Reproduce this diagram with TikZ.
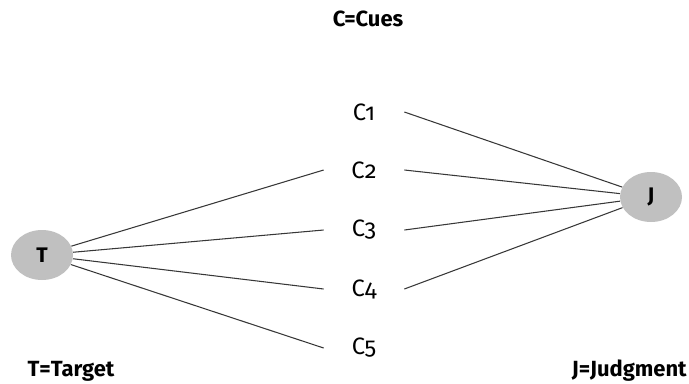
\documentclass[tikz,border=0pt]{standalone}
\usepackage{fontspec}
\setmainfont{Fira Sans}[Numbers=OldStyle]
\usetikzlibrary{shapes.geometric}
\definecolor{ballgray}{RGB}{192,192,192}
\definecolor{linkgray}{RGB}{55,55,55}
\newlength{\unitpx}
\setlength{\unitpx}{0.02cm}
\tikzset{
  ball/.style={ellipse, fill=ballgray, minimum width=62\unitpx, minimum height=50\unitpx,
    inner sep=0pt, font=\fontsize{12}{13}\selectfont\bfseries},
  cue/.style={minimum width=80\unitpx, minimum height=20\unitpx, inner sep=0pt,
    font=\fontsize{13.5}{15}\selectfont},
  legend/.style={font=\fontsize{12.5}{14}\selectfont\bfseries, inner sep=0pt},
  link/.style={draw=linkgray, line width=0.6pt}
}
\begin{document}
\begin{tikzpicture}[x=0.02cm, y=-0.02cm]
  \useasboundingbox (0,0) rectangle (689,383);
  % target and judgment
  \node[ball] (T) at (42,255) {T};
  \node[ball] (J) at (651,197) {J};
  % cue nodes
  \node[cue] (c1) at (364,112) {C1};
  \node[cue] (c2) at (364,170) {C2};
  \node[cue] (c3) at (364,230) {C3};
  \node[cue] (c4) at (364,289) {C4};
  \node[cue] (c5) at (364,348) {C5};
  % legend texts
  \node[legend] (lc) at (368,19) {C=Cues};
  \node[legend] (lt) at (71,371) {T=Target};
  \node[legend, anchor=east] (lj) at (687,371) {J=Judgment};
  % target to cues
  \foreach \c in {c2,c3,c4,c5} \draw[link] (T) -- (\c.west);
  % cues to judgment
  \foreach \c in {c1,c2,c3,c4} \draw[link] (\c.east) -- (J);
\end{tikzpicture}
\end{document}
